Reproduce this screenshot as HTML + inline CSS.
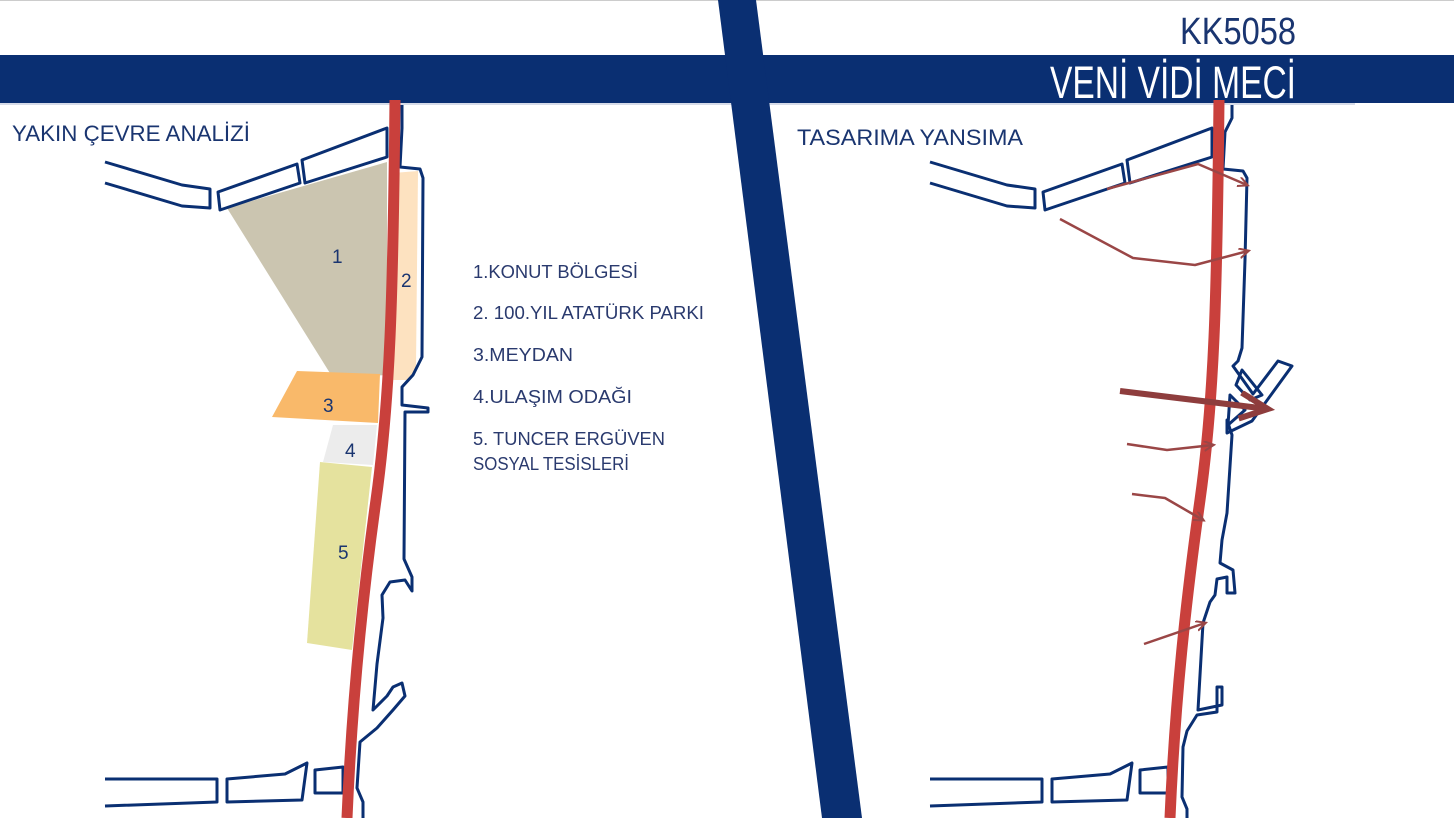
<!DOCTYPE html>
<html><head><meta charset="utf-8"><style>html,body{margin:0;padding:0;background:#fff;}svg{display:block}</style></head>
<body>
<svg width="1454" height="818" viewBox="0 0 1454 818" xmlns="http://www.w3.org/2000/svg" font-family="'Liberation Sans', sans-serif">
<defs>
<marker id="ah" markerWidth="12" markerHeight="12" refX="9" refY="5" orient="auto" markerUnits="userSpaceOnUse"><path d="M0,0 L10,5 L0,10" fill="none" stroke="#9a4646" stroke-width="2"/></marker>
<marker id="ahb" markerWidth="40" markerHeight="40" refX="30" refY="15" orient="auto" markerUnits="userSpaceOnUse"><path d="M2,2 L30,15 L2,28" fill="none" stroke="#8e3d3d" stroke-width="6"/></marker>
</defs>
<rect width="1454" height="818" fill="#fff"/>
<line x1="0" y1="0.5" x2="1454" y2="0.5" stroke="#ccc"/>
<rect x="0" y="55" width="1454" height="48" fill="#0a2f72"/>
<line x1="0" y1="104" x2="1355" y2="104" stroke="#c8cfe0" stroke-width="1.5"/>
<polygon points="718,0 756,0 862,818 822,818" fill="#0a2f72"/>
<text x="1180" y="44" font-size="38" fill="#1a3570" textLength="116" lengthAdjust="spacingAndGlyphs">KK5058</text>
<text x="1050" y="98" font-size="45" fill="#fff" textLength="246" lengthAdjust="spacingAndGlyphs">VENİ VİDİ MECİ</text>
<text x="12" y="141" font-size="22" fill="#1a3570" textLength="238" lengthAdjust="spacingAndGlyphs">YAKIN ÇEVRE ANALİZİ</text>
<text x="797" y="145" font-size="22" fill="#1a3570" textLength="226" lengthAdjust="spacingAndGlyphs">TASARIMA YANSIMA</text>

<polygon points="227,208 387,162 387,375 333,378" fill="#cbc5b0"/>
<polygon points="393,173 418,171 416,366 410,380 390,380" fill="#fde2c0"/>
<polygon points="297,371 380,374 378,423 272,417" fill="#f9b96a"/>
<polygon points="333,425 377,425 373,465 323,462" fill="#ececec"/>
<polygon points="320,462 372,467 352,650 307,643" fill="#e5e29e"/>
<g font-size="19" fill="#1a3570">
<text x="332" y="263">1</text><text x="401" y="287">2</text><text x="323" y="412">3</text><text x="345" y="457">4</text><text x="338" y="559">5</text>
</g>

<g id="blk" fill="none" stroke="#0a2f72" stroke-width="3" stroke-linejoin="round">
<polyline points="105,162 182,185 210,189 210,208 182,206 105,183"/>
<polygon points="218,192 297,164 300,183 220,210"/>
<polygon points="302,160 387,128 387,157 305,183"/>
<polyline points="105,779 217,779 217,802 105,806"/>
<polygon points="227,779 285,774 307,763 302,800 227,802"/>
<polygon points="315,770 343,767 343,793 315,793"/>
</g>
<use href="#blk" transform="translate(825,0)"/>

<polyline fill="none" stroke="#0a2f72" stroke-width="3" stroke-linejoin="round" points="402,105 402,128 400,167 420,169 423,178 422,357 413,375 402,387 402,405 428,408 428,412 405,412 404,559 412,577 412,591 405,580 390,582 382,595 383,618 377,664 373,710 387,696 393,687 402,683 405,696 393,710 377,728 360,742 357,788 363,802 363,818"/>
<path d="M395,100 C393,300 390,400 376,500 S352,700 347,818" fill="none" stroke="#c9403c" stroke-width="11"/>

<g font-size="18" fill="#2a3a6e">
<text x="473" y="278" textLength="165" lengthAdjust="spacingAndGlyphs">1.KONUT BÖLGESİ</text>
<text x="473" y="319" textLength="231" lengthAdjust="spacingAndGlyphs">2. 100.YIL ATATÜRK PARKI</text>
<text x="473" y="361" textLength="100" lengthAdjust="spacingAndGlyphs">3.MEYDAN</text>
<text x="473" y="403" textLength="159" lengthAdjust="spacingAndGlyphs">4.ULAŞIM ODAĞI</text>
<text x="473" y="445" textLength="192" lengthAdjust="spacingAndGlyphs">5. TUNCER ERGÜVEN</text>
<text x="473" y="470" textLength="156" lengthAdjust="spacingAndGlyphs">SOSYAL TESİSLERİ</text>
</g>

<g fill="none" stroke="#0a2f72" stroke-width="3" stroke-linejoin="round">
<polyline points="1232,105 1232,118 1225,132 1223,169 1243,171 1247,178 1245,260 1242,348 1238,361 1233,366 1253,394 1278,361 1292,366 1252,421 1227,433 1227,420 1232,435 1227,513 1222,540 1220,563 1233,570 1235,593 1227,593 1227,577 1217,579 1215,595 1210,602 1203,623 1198,710 1222,705 1222,687 1217,687 1217,712 1197,715 1187,731 1183,747 1182,797 1187,809 1187,818"/>
<polygon points="1242,370 1262,395 1250,400 1236,385"/>
<polygon points="1230,395 1245,410 1228,425"/>
</g>
<path d="M1219,100 C1217,300 1214,400 1200,500 S1175,700 1170,818" fill="none" stroke="#c9403c" stroke-width="11"/>

<g fill="none" stroke="#9a4646" stroke-width="2.5" stroke-linejoin="round">
<polyline points="1107,189 1198,164 1247,185" marker-end="url(#ah)"/>
<polyline points="1060,219 1133,258 1195,265 1248,251" marker-end="url(#ah)"/>
<polyline points="1127,444 1167,450 1213,445" marker-end="url(#ah)"/>
<polyline points="1132,494 1165,498 1203,520" marker-end="url(#ah)"/>
<polyline points="1144,644 1205,623" marker-end="url(#ah)"/>
</g>
<line x1="1120" y1="391" x2="1268" y2="409" stroke="#8e3d3d" stroke-width="6" marker-end="url(#ahb)"/>
</svg>
</body></html>
